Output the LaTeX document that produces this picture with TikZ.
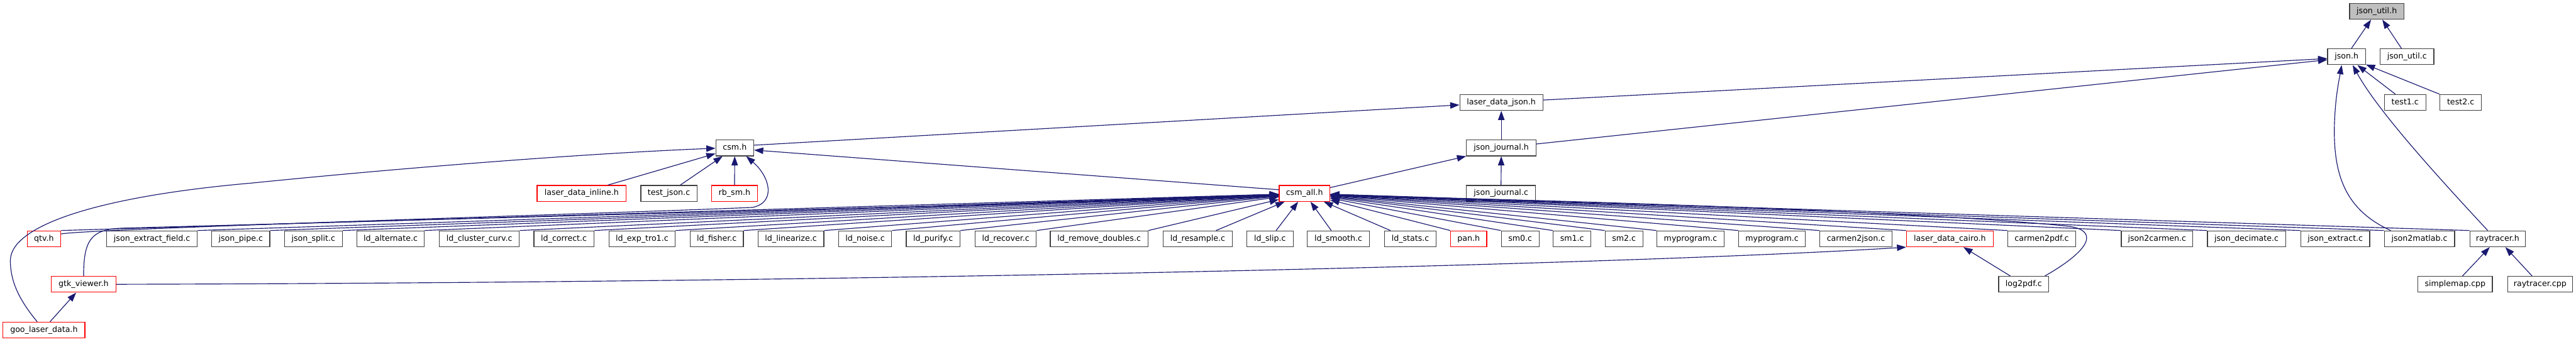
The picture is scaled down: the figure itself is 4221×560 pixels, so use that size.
\documentclass[tikz,border=0pt]{standalone}
\usepackage{fontspec}
\setmainfont{DejaVu Sans}
\usetikzlibrary{arrows.meta}
\definecolor{edgeblue}{HTML}{191970}
\definecolor{bordergray}{HTML}{404040}
\definecolor{rootfill}{HTML}{BFBFBF}
\begin{document}
\begin{tikzpicture}[x=1pt,y=-1pt,
  fbox/.style={draw=bordergray, fill=white, line width=1.3pt, inner sep=0pt,
    minimum height=26pt, text height=9.5pt, text depth=2.7pt,
    font=\fontsize{13pt}{15pt}\selectfont},
  redbox/.style={fbox, draw=red},
  rootbox/.style={fbox, fill=rootfill},
  edge/.style={draw=edgeblue, line width=1.2pt, -{Triangle[length=15pt,width=10.5pt]}}]
\useasboundingbox (0,0) rectangle (4221,560);
% row 0
\node[rootbox, minimum width=89pt] (jutilh) at (3894.5,18.5) {json\_util.h};
% row 1
\node[fbox, minimum width=62pt] (json) at (3845,93) {json.h};
\node[fbox, minimum width=88pt] (jutilc) at (3944,93) {json\_util.c};
% row 2
\node[fbox, minimum width=136pt] (ldjson) at (2460,168) {laser\_data\_json.h};
\node[fbox, minimum width=68pt] (test1) at (3941,168) {test1.c};
\node[fbox, minimum width=68pt] (test2) at (4032,168) {test2.c};
% row 3
\node[fbox, minimum width=62pt] (csm) at (1204,242.5) {csm.h};
\node[fbox, minimum width=114pt] (jjh) at (2460,242.5) {json\_journal.h};
% row 4
\node[redbox, minimum width=146pt] (ldinline) at (953,317) {laser\_data\_inline.h};
\node[fbox, minimum width=92pt] (testjson) at (1096,317) {test\_json.c};
\node[redbox, minimum width=75pt] (rbsm) at (1203.5,317) {rb\_sm.h};
\node[redbox, minimum width=83pt] (csmall) at (2137.5,317) {csm\_all.h};
\node[fbox, minimum width=113pt] (jjc) at (2459.5,317) {json\_journal.c};
% row 5
\node[redbox, minimum width=55pt] (qtv) at (72,391.5) {qtv.h};
\node[fbox, minimum width=148pt] (jef) at (249,391.5) {json\_extract\_field.c};
\node[fbox, minimum width=95pt] (jpipe) at (394.5,391.5) {json\_pipe.c};
\node[fbox, minimum width=95pt] (jsplit) at (513.5,391.5) {json\_split.c};
\node[fbox, minimum width=110pt] (ldalt) at (640,391.5) {ld\_alternate.c};
\node[fbox, minimum width=131pt] (ldcc) at (785.5,391.5) {ld\_cluster\_curv.c};
\node[fbox, minimum width=98pt] (ldcorr) at (924,391.5) {ld\_correct.c};
\node[fbox, minimum width=108pt] (ldexp) at (1052,391.5) {ld\_exp\_tro1.c};
\node[fbox, minimum width=87pt] (ldfish) at (1174.5,391.5) {ld\_fisher.c};
\node[fbox, minimum width=108pt] (ldlin) at (1296,391.5) {ld\_linearize.c};
\node[fbox, minimum width=87pt] (ldnoise) at (1417.5,391.5) {ld\_noise.c};
\node[fbox, minimum width=88pt] (ldpur) at (1529,391.5) {ld\_purify.c};
\node[fbox, minimum width=100pt] (ldrec) at (1648,391.5) {ld\_recover.c};
\node[fbox, minimum width=160pt] (ldrd) at (1801,391.5) {ld\_remove\_doubles.c};
\node[fbox, minimum width=113pt] (ldres) at (1962.5,391.5) {ld\_resample.c};
\node[fbox, minimum width=76pt] (ldslip) at (2081,391.5) {ld\_slip.c};
\node[fbox, minimum width=102pt] (ldsmooth) at (2193,391.5) {ld\_smooth.c};
\node[fbox, minimum width=84pt] (ldstats) at (2311,391.5) {ld\_stats.c};
\node[redbox, minimum width=59pt] (pan) at (2406.5,391.5) {pan.h};
\node[fbox, minimum width=62pt] (smzero) at (2491,391.5) {sm0.c};
\node[fbox, minimum width=62pt] (smone) at (2576,391.5) {sm1.c};
\node[fbox, minimum width=62pt] (smtwo) at (2661,391.5) {sm2.c};
\node[fbox, minimum width=110pt] (myproga) at (2770,391.5) {myprogram.c};
\node[fbox, minimum width=109pt] (myprogb) at (2903.5,391.5) {myprogram.c};
\node[fbox, minimum width=118pt] (ctoj) at (3041,391.5) {carmen2json.c};
\node[redbox, minimum width=142pt] (ldcairo) at (3195,391.5) {laser\_data\_cairo.h};
\node[fbox, minimum width=111pt] (ctopdf) at (3345.5,391.5) {carmen2pdf.c};
\node[fbox, minimum width=117pt] (jtoc) at (3534.5,391.5) {json2carmen.c};
\node[fbox, minimum width=128pt] (jdec) at (3681,391.5) {json\_decimate.c};
\node[fbox, minimum width=113pt] (jext) at (3826.5,391.5) {json\_extract.c};
\node[fbox, minimum width=115pt] (jtom) at (3964.5,391.5) {json2matlab.c};
\node[fbox, minimum width=91pt] (rayh) at (4092.5,391.5) {raytracer.h};
% row 6
\node[redbox, minimum width=105.5pt] (gtk) at (137,466) {gtk\_viewer.h};
\node[fbox, minimum width=82pt] (logpdf) at (3316,466) {log2pdf.c};
\node[fbox, minimum width=122pt] (smap) at (4023,466) {simplemap.cpp};
\node[fbox, minimum width=106pt] (raycpp) at (4162,466) {raytracer.cpp};
% row 7
\node[redbox, minimum width=134pt] (goo) at (72,541) {goo\_laser\_data.h};

% ---- edges ----
\draw[edge] ([xshift=8pt]json.north) -- (jutilh);
\draw[edge] ([xshift=-9pt]jutilc.north) -- (jutilh);
\draw[edge] ([yshift=4pt]ldjson.east) -- ([yshift=-3pt]json.west);
\draw[edge] ([yshift=6.5pt]jjh.east) -- ([yshift=-5pt]json.west);
\draw[edge] ([xshift=-16pt]test1.north) -- (json);
\draw[edge] (test2.north west) -- (json);
\draw[edge] ([xshift=11pt]jtom.north west) .. controls (3845,345) and (3824,290) .. (3825,210)
   .. controls (3826,160) and (3833,130) .. ([xshift=-8pt]json.south);
\draw[edge] ([xshift=30pt]rayh.north west) .. controls (3990,285) and (3895,180) .. ([xshift=10pt]json.south);
\draw[edge] ([yshift=4.5pt]csm.east) -- ([yshift=-4pt]ldjson.west);
\draw[edge] (jjh) -- (ldjson);
\draw[edge] (jjc) -- (jjh);
\draw[edge] ([yshift=9.5pt]csmall.east) -- (jjh.south west);
\draw[edge] ([yshift=6pt]csmall.west) -- ([yshift=-3.5pt]csm.east);
\draw[edge] ([xshift=43pt]ldinline.north) -- (csm);
\draw[edge] ([xshift=18.7pt]testjson.north) -- (csm);
\draw[edge] (rbsm) -- (csm);
\draw[edge] ([xshift=-11pt]goo.north) .. controls (30,490) and (17,460) .. (17,427)
   .. controls (17,370) and (160,322) .. (413,300)
   .. controls (650,276) and (950,252) .. ([yshift=-0.5pt]csm.west);
\draw[edge] ([yshift=8pt]qtv.east) .. controls (140,375) and (1000,350) .. (1233,340)
   .. controls (1272,332) and (1262,290) .. ([xshift=-13pt]csm.south east);
\draw[edge] ([xshift=10pt]goo.north) -- (gtk);
\draw[edge] (gtk.east) .. controls (1500,463) and (2700,432) .. (ldcairo.south west);
\draw[edge] ([xshift=-22pt]logpdf.north) -- (ldcairo);
\draw[edge] ([xshift=12pt]smap.north) -- (rayh);
\draw[edge] ([xshift=-13pt]raycpp.north) -- (rayh);
% into csm_all.h
\foreach \n in {qtv,jef,jpipe,jsplit,ldalt,ldcc,ldcorr,ldexp,ldfish,ldlin,ldnoise,ldpur,ldrec,ldrd}
  \draw[edge] (\n.north east) -- (csmall);
\draw[edge] ([xshift=30pt]ldres.north) -- (csmall);
\draw[edge] ([xshift=10pt]ldslip.north) -- (csmall);
\draw[edge] ([xshift=40pt]ldsmooth.north west) -- (csmall);
\draw[edge] ([xshift=10pt]ldstats.north west) -- (csmall);
\foreach \n in {pan,smzero,smone,smtwo,myproga,myprogb,ctoj,ldcairo,ctopdf,jtoc,jdec,jext,jtom,rayh}
  \draw[edge] (\n.north west) -- (csmall);
\draw[edge] (gtk.north) .. controls (137,392) and (150,376) .. (200,374) -- ([yshift=-5pt]csmall.west);
\draw[edge] ([xshift=-7pt]logpdf.north east) .. controls (3425,410) and (3440,378) .. (3390,371)
   .. controls (3200,350) and (2600,328) .. ([yshift=-4pt]csmall.east);
\end{tikzpicture}
\end{document}
